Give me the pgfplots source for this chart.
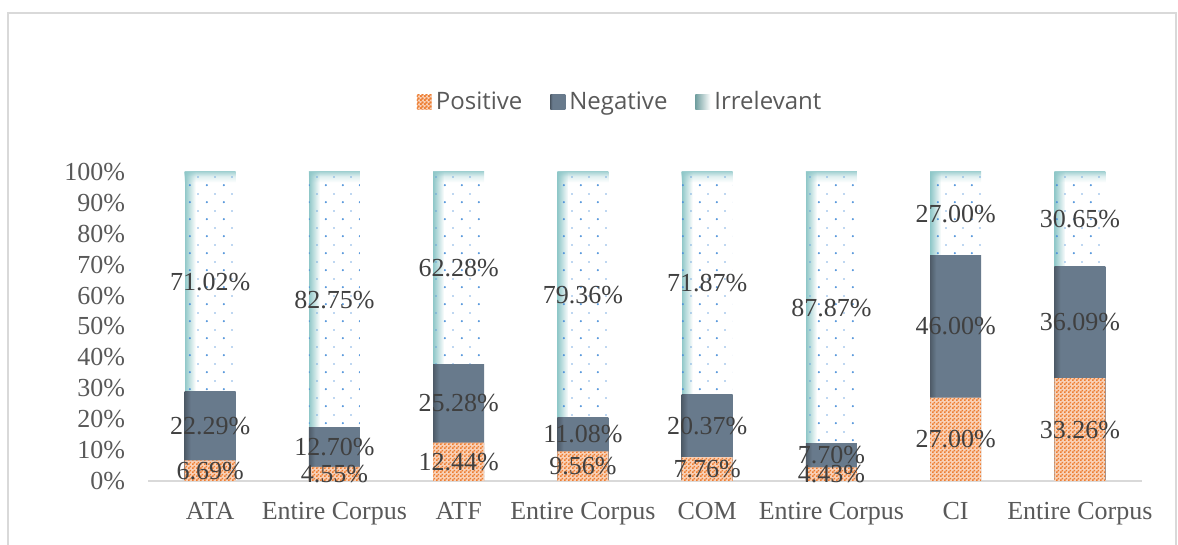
\documentclass[border=0pt]{standalone}
\usepackage{pgfplots}
\pgfplotsset{compat=1.18}
\usepackage{pgfplotstable}
\usetikzlibrary{patterns,fadings}
\usepackage{fontspec}
\setmainfont{Liberation Serif}
\newfontfamily\legfont{Open Sans}
\definecolor{posc}{HTML}{ED7D31}
\definecolor{negc}{HTML}{687A8C}
\definecolor{negdark}{HTML}{4E5B68}
\definecolor{irredge}{HTML}{8EC7C8}
\definecolor{dotc}{HTML}{4A90D9}
\definecolor{tickc}{HTML}{595959}
\definecolor{labc}{HTML}{404040}
\definecolor{gridc}{HTML}{D9D9D9}

\pgfdeclarepatternformonly{finecheck}{\pgfpointorigin}{\pgfpoint{2bp}{2bp}}{\pgfpoint{2bp}{2bp}}{%
  \pgfpathrectangle{\pgfpointorigin}{\pgfpoint{1bp}{1bp}}%
  \pgfpathrectangle{\pgfpoint{1bp}{1bp}}{\pgfpoint{1bp}{1bp}}%
  \pgfusepath{fill}}
\pgfdeclarepatternformonly{irrdots}{\pgfpointorigin}{\pgfpoint{8.5bp}{8.5bp}}{\pgfpoint{8.5bp}{8.5bp}}{%
  \pgfpathcircle{\pgfpoint{1.5bp}{1.5bp}}{0.6bp}%
  \pgfpathrectangle{\pgfpoint{5.4bp}{5.55bp}}{\pgfpoint{0.9bp}{0.5bp}}%
  \pgfusepath{fill}}
\pgfdeclareverticalshading{irrtop}{100bp}{color(0bp)=(white); color(73.3bp)=(white); color(74.3bp)=(irredge!28!white); color(75bp)=(irredge!75!white); color(100bp)=(irredge!75!white)}
\pgfdeclarehorizontalshading{negshade}{100bp}{color(0bp)=(negdark); color(25bp)=(negdark); color(31bp)=(negc); color(100bp)=(negc)}

\pgfplotstableread{
x pos neg irr
0 6.69 22.29 71.02
1 4.55 12.70 82.75
2 12.44 25.28 62.28
3 9.56 11.08 79.36
4 7.76 20.37 71.87
5 4.43 7.70 87.87
6 27.00 46.00 27.00
7 33.26 36.09 30.65
}\datatable

\pgfplotsset{
  commonaxis/.style={
    at={(74bp,32bp)}, anchor=south west,
    scale only axis, width=497bp, height=154.5bp,
    xmin=-0.5, xmax=7.5, ymin=0, ymax=100,
  }
}

\begin{document}
\begin{tikzpicture}
\path[use as bounding box] (0,0) rectangle (589bp,272.5bp);
\draw[gridc, line width=0.75bp] (4bp,-5bp) rectangle (588bp,266bp);
% background fills, one path per bar so each bar gets its own shading
\begin{axis}[commonaxis, hide axis, ybar, bar width=25.5bp]
\pgfplotsinvokeforeach{0,...,7}{
  \addplot[draw=none, bar shift=0pt, shade, shading=irrtop]
    table[x=x, y expr=\thisrow{pos}+\thisrow{neg}+\thisrow{irr}, restrict x to domain=#1:#1] \datatable;
}
\pgfplotsinvokeforeach{0,...,7}{
  \addplot[draw=none, bar shift=-10bp, bar width=5.5bp, fill=irredge, path fading=east]
    table[x=x, y expr=\thisrow{pos}+\thisrow{neg}+\thisrow{irr}, restrict x to domain=#1:#1] \datatable;
}
\pgfplotsinvokeforeach{0,...,7}{
  \addplot[draw=none, bar shift=0pt, shade, shading=negshade]
    table[x=x, y expr=\thisrow{pos}+\thisrow{neg}, restrict x to domain=#1:#1] \datatable;
}
\end{axis}
\begin{axis}[
  commonaxis,
  ybar stacked, bar width=25.5bp,
  axis x line*=bottom, axis y line*=left,
  x axis line style={gridc, line width=0.75bp, -},
  y axis line style={draw=none},
  major tick length=0pt, tick style={draw=none},
  xtick={0,...,7},
  xticklabels={ATA,Entire Corpus,ATF,Entire Corpus,COM,Entire Corpus,CI,Entire Corpus},
  ytick={0,10,...,100},
  yticklabels={0\%,10\%,20\%,30\%,40\%,50\%,60\%,70\%,80\%,90\%,100\%},
  tick label style={font=\fontsize{13bp}{15bp}\selectfont, text=tickc},
  yticklabel style={xshift=-8bp},
  xticklabel style={text height=9bp, text depth=3bp, yshift=-6.5bp},
  legend columns=3,
  legend style={at={(0.476,1.2265)}, anchor=center, draw=none, fill=none,
    font=\legfont\fontsize{12bp}{14bp}\selectfont, text=tickc,
    /tikz/every even column/.append style={column sep=12bp}},
]
\addplot[draw=none, fill=posc!35!white, postaction={pattern=finecheck, pattern color=posc},
  legend image code/.code={\path[fill=posc!35!white, postaction={pattern=finecheck, pattern color=posc}] (0bp,-3.75bp) rectangle (7.5bp,3.75bp);}]
  table[x=x, y=pos] \datatable;
\addlegendentry{Positive}
\addplot[draw=none, fill=none,
  legend image code/.code={\path[shade, shading=negshade] (0bp,-3.75bp) rectangle (7.5bp,3.75bp);}]
  table[x=x, y=neg] \datatable;
\addlegendentry{Negative}
\addplot[draw=none, pattern=irrdots, pattern color=dotc,
  legend image code/.code={\path[shade, shading angle=45, left color=irredge!80!black, right color=white] (0bp,-3.75bp) rectangle (7.5bp,3.75bp);}]
  table[x=x, y=irr] \datatable;
\addlegendentry{Irrelevant}
\end{axis}
\begin{axis}[
  commonaxis, hide axis, clip=false,
  nodes near coords={\pgfmathprintnumber[fixed, fixed zerofill, precision=2, assume math mode=true]{\pgfplotspointmeta}\%},
  every node near coord/.append style={anchor=center, font=\fontsize{13bp}{15bp}\selectfont, text=labc, inner sep=0pt},
]
\addplot[only marks, mark=none, point meta=explicit] table[x=x, y expr=\thisrow{pos}/2, meta=pos] \datatable;
\addplot[only marks, mark=none, point meta=explicit] table[x=x, y expr=\thisrow{pos}+\thisrow{neg}/2, meta=neg] \datatable;
\addplot[only marks, mark=none, point meta=explicit] table[x=x, y expr=\thisrow{pos}+\thisrow{neg}+\thisrow{irr}/2, meta=irr] \datatable;
\end{axis}
\end{tikzpicture}
\end{document}
